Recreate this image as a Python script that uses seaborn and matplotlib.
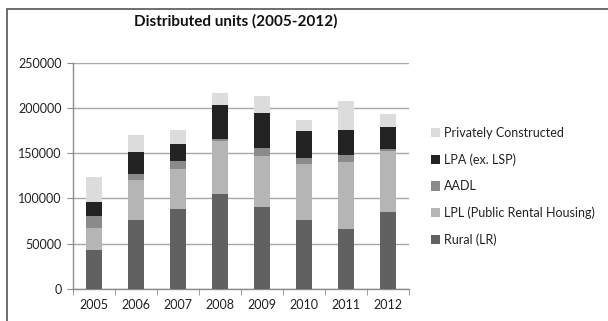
import numpy as np
import pandas as pd
import seaborn as sns
import matplotlib.pyplot as plt
from matplotlib.patches import Rectangle, Patch

# data (units)
years = ['2005', '2006', '2007', '2008', '2009', '2010', '2011', '2012']
rural = [42700, 76600, 88700, 105300, 91000, 76200, 66700, 84700]
lpl = [25100, 43400, 43400, 58100, 55800, 62200, 73900, 67700]
aadl = [12800, 7400, 8900, 1800, 9200, 6600, 7400, 1800]
lpa = [15100, 23800, 19500, 37600, 38700, 29400, 28000, 25100]
private = [27900, 18500, 15400, 14200, 18300, 12100, 31200, 14300]

series = ['Rural (LR)', 'LPL (Public Rental Housing)', 'AADL', 'LPA (ex. LSP)', 'Privately Constructed']
colors = ['#616161', '#b5b5b5', '#8a8a8a', '#232323', '#dcdcdc']

df = pd.DataFrame({'Year': years, series[0]: rural, series[1]: lpl, series[2]: aadl,
                   series[3]: lpa, series[4]: private})
cum = df[series].cumsum(axis=1)
cum['Year'] = df['Year']

sns.set_style('white')
plt.rcParams['font.family'] = ['Lato', 'DejaVu Sans']

fig = plt.figure(figsize=(6.08, 3.21), dpi=100)
ax = fig.add_axes([73 / 608, 1 - 289 / 321, (409 - 73) / 608, (289 - 62.7) / 321])

# stacked look: draw cumulative totals from the top series down
for name, col in reversed(list(zip(series, colors))):
    sns.barplot(data=cum, x='Year', y=name, color=col, width=0.4, ax=ax,
                saturation=1, edgecolor='none', zorder=3)

ax.set_xlim(-0.5, 7.5)
ax.set_ylim(0, 250000)
ax.set_yticks(range(0, 250001, 50000))
ax.set_yticklabels([str(v) for v in range(0, 250001, 50000)])
ax.set_xlabel('')
ax.set_ylabel('')
ax.yaxis.grid(True, color='#a8a8a8', linewidth=1, zorder=0)
ax.set_axisbelow(True)
for s in ['top', 'right']:
    ax.spines[s].set_visible(False)
for s in ['left', 'bottom']:
    ax.spines[s].set_color('#8c8c8c')
    ax.spines[s].set_linewidth(1)
ax.tick_params(axis='y', length=4, color='#8c8c8c', labelsize=9, labelcolor='#222222', pad=4, left=True)
ax.tick_params(axis='x', which='major', length=0, labelsize=9, labelcolor='#222222', pad=7)
ax.set_xticks(np.arange(-0.5, 8, 1), minor=True)
ax.tick_params(axis='x', which='minor', length=4, color='#8c8c8c', bottom=True)

fig.text(236 / 608, 1 - 21 / 321, 'Distributed units (2005-2012)', ha='center', va='center',
         fontsize=11, fontweight='bold', color='#111111')

handles = [Patch(facecolor=c, edgecolor='none') for c in reversed(colors)]
fig.legend(handles, list(reversed(series)), loc='upper left',
           bbox_to_anchor=(431 / 608, 1 - 127 / 321), frameon=False, fontsize=9,
           handlelength=0.75, handleheight=0.75, handletextpad=0.3,
           labelspacing=1.15, borderpad=0, borderaxespad=0, labelcolor='#222222')

# outer chart frame
fig.patches.append(Rectangle((6.5 / 608, -0.05), 1.0, 1 - 9 / 321 + 0.05, transform=fig.transFigure,
                             fill=False, edgecolor='#555555', linewidth=1.2))

plt.savefig('out.png', dpi=100)
plt.close()
